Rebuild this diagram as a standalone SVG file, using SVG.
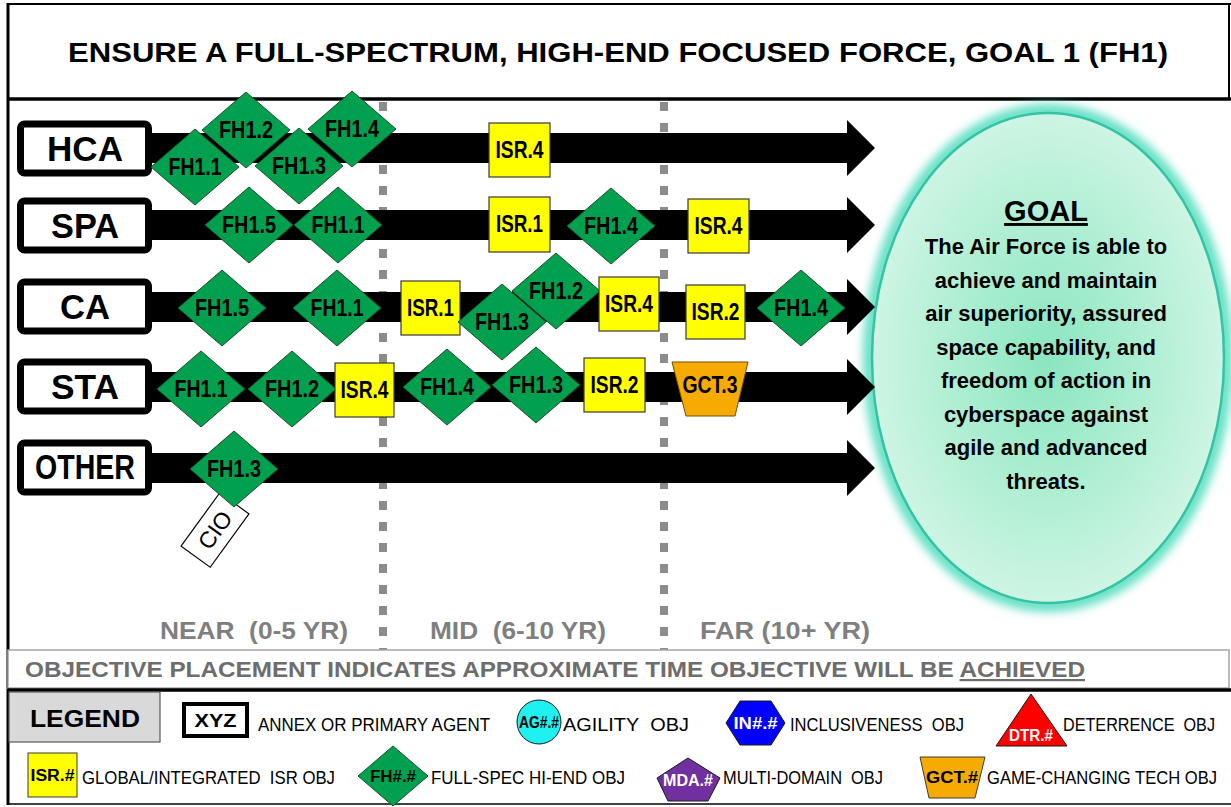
<svg xmlns="http://www.w3.org/2000/svg" xmlns:xlink="http://www.w3.org/1999/xlink" width="1231" height="807" viewBox="0 0 1231 807">
<style>
text{font-family:"Liberation Sans",Arial,sans-serif;}
.t{font-weight:bold;font-size:27px;fill:#000;}
.lbl{font-weight:bold;font-size:35px;text-anchor:middle;fill:#000;}
.lbox{fill:#fff;stroke:#000;stroke-width:7;}
.bar{fill:#000;}
.dot{stroke:#8c8c8c;stroke-width:8;stroke-dasharray:9 12;fill:none;}
.dia{fill:#00a04f;stroke:#1e4f2c;stroke-width:1;}
.isr{fill:#ffff00;stroke:#3a3a3a;stroke-width:1.2;}
.gct{fill:#f7ab00;stroke:#6b5200;stroke-width:1;}
.o{font-weight:bold;font-size:23px;text-anchor:middle;fill:#000;}
.g{font-weight:bold;font-size:22px;text-anchor:middle;fill:#000;}
.time{font-weight:bold;font-size:23px;fill:#7f7f7f;}
.note{font-weight:bold;font-size:22px;fill:#6d6d6d;}
.lg{font-size:18px;fill:#000;}
.lgb{font-weight:bold;font-size:16px;text-anchor:middle;}
</style>
<defs>
<polygon id="d" points="0,-38 44,0 0,38 -44,0"/>
<radialGradient id="gf" cx="0.5" cy="0.5" r="0.5">
<stop offset="0" stop-color="#8ae6bf"/>
<stop offset="1" stop-color="#cdf5e3"/>
</radialGradient>
<filter id="glow" x="-20%" y="-20%" width="140%" height="140%">
<feGaussianBlur stdDeviation="5"/>
</filter>
</defs>
<rect x="0" y="0" width="1231" height="807" fill="#fff"/>

<!-- frame -->
<g id="frame">
<line x1="8" y1="4" x2="1231" y2="4" stroke="#000" stroke-width="2"/>
<line x1="8" y1="3" x2="8" y2="805" stroke="#000" stroke-width="3"/>
<line x1="1229" y1="4" x2="1229" y2="99" stroke="#000" stroke-width="2"/>
<line x1="8" y1="99" x2="1231" y2="99" stroke="#000" stroke-width="3.5"/>
<text class="t" x="68" y="62" textLength="1100" lengthAdjust="spacingAndGlyphs">ENSURE A FULL-SPECTRUM, HIGH-END FOCUSED FORCE, GOAL 1 (FH1)</text>
</g>

<!-- goal ellipse -->
<g id="goal">
<ellipse cx="1048" cy="358" rx="178" ry="247" fill="none" stroke="#62e0c4" stroke-width="14" filter="url(#glow)"/>
<ellipse cx="1048" cy="358" rx="176" ry="245" fill="url(#gf)" stroke="#34c4a4" stroke-width="2.5"/>
<text x="1046" y="221" font-weight="bold" font-size="29" text-anchor="middle" text-decoration="underline" font-family="Liberation Sans, Arial, sans-serif">GOAL</text>
<text class="g" x="1046" y="254">The Air Force is able to</text>
<text class="g" x="1046" y="288">achieve and maintain</text>
<text class="g" x="1046" y="321">air superiority, assured</text>
<text class="g" x="1046" y="355">space capability, and</text>
<text class="g" x="1046" y="388">freedom of action in</text>
<text class="g" x="1046" y="422">cyberspace against</text>
<text class="g" x="1046" y="455">agile and advanced</text>
<text class="g" x="1046" y="489">threats.</text>
</g>

<!-- time dividers -->
<g id="dividers">
<line class="dot" x1="383" y1="102" x2="383" y2="650"/>
<line class="dot" x1="664" y1="102" x2="664" y2="650"/>
</g>

<!-- connectors (timeline arrows) -->
<g id="connectors">
<polygon class="bar" points="150,133 847,133 847,120 875,148 847,176 847,163 150,163"/>
<polygon class="bar" points="150,210 847,210 847,197 875,225 847,253 847,240 150,240"/>
<polygon class="bar" points="150,292 847,292 847,279 875,307 847,335 847,322 150,322"/>
<polygon class="bar" points="150,372 847,372 847,359 875,387 847,415 847,402 150,402"/>
<polygon class="bar" points="150,453 847,453 847,440 875,468 847,496 847,483 150,483"/>
</g>

<!-- row labels -->
<g id="HCA"><rect class="lbox" x="20.5" y="124" width="128" height="49" rx="4"/><text class="lbl" x="85" y="161" textLength="76" lengthAdjust="spacingAndGlyphs">HCA</text></g>
<g id="SPA"><rect class="lbox" x="20.5" y="201" width="128" height="49" rx="4"/><text class="lbl" x="85" y="238" textLength="68" lengthAdjust="spacingAndGlyphs">SPA</text></g>
<g id="CA"><rect class="lbox" x="20.5" y="282" width="128" height="49" rx="4"/><text class="lbl" x="85" y="319" textLength="50" lengthAdjust="spacingAndGlyphs">CA</text></g>
<g id="STA"><rect class="lbox" x="20.5" y="362" width="128" height="49" rx="4"/><text class="lbl" x="85" y="399" textLength="68" lengthAdjust="spacingAndGlyphs">STA</text></g>
<g id="OTHER"><rect class="lbox" x="20.5" y="443" width="128" height="49" rx="4"/><text class="lbl" x="85" y="479" font-size="33" textLength="100" lengthAdjust="spacingAndGlyphs">OTHER</text></g>

<!-- HCA row objects -->
<g id="hca-fh11"><use xlink:href="#d" class="dia" x="195" y="167"/><text class="o" x="195" y="175" textLength="53" lengthAdjust="spacingAndGlyphs">FH1.1</text></g>
<g id="hca-fh12"><use xlink:href="#d" class="dia" x="246" y="130"/><text class="o" x="246" y="138" textLength="54" lengthAdjust="spacingAndGlyphs">FH1.2</text></g>
<g id="hca-fh13"><use xlink:href="#d" class="dia" x="299" y="166"/><text class="o" x="299" y="174" textLength="54" lengthAdjust="spacingAndGlyphs">FH1.3</text></g>
<g id="hca-fh14"><use xlink:href="#d" class="dia" x="352" y="129"/><text class="o" x="352" y="137" textLength="54" lengthAdjust="spacingAndGlyphs">FH1.4</text></g>
<g id="hca-isr4"><rect class="isr" x="489" y="123" width="61" height="54"/><text class="o" x="519.5" y="158" textLength="48" lengthAdjust="spacingAndGlyphs">ISR.4</text></g>

<!-- SPA row objects -->
<g id="spa-fh15"><use xlink:href="#d" class="dia" x="249" y="225"/><text class="o" x="249" y="233" textLength="54" lengthAdjust="spacingAndGlyphs">FH1.5</text></g>
<g id="spa-fh11"><use xlink:href="#d" class="dia" x="338" y="225"/><text class="o" x="338" y="233" textLength="53" lengthAdjust="spacingAndGlyphs">FH1.1</text></g>
<g id="spa-isr1"><rect class="isr" x="489" y="197" width="61" height="55"/><text class="o" x="519.5" y="232" textLength="47" lengthAdjust="spacingAndGlyphs">ISR.1</text></g>
<g id="spa-fh14"><use xlink:href="#d" class="dia" x="611" y="226"/><text class="o" x="611" y="234" textLength="54" lengthAdjust="spacingAndGlyphs">FH1.4</text></g>
<g id="spa-isr4"><rect class="isr" x="688" y="199" width="61" height="54"/><text class="o" x="718.5" y="234" textLength="48" lengthAdjust="spacingAndGlyphs">ISR.4</text></g>

<!-- CA row objects -->
<g id="ca-fh15"><use xlink:href="#d" class="dia" x="222" y="308"/><text class="o" x="222" y="316" textLength="54" lengthAdjust="spacingAndGlyphs">FH1.5</text></g>
<g id="ca-fh11"><use xlink:href="#d" class="dia" x="337" y="308"/><text class="o" x="337" y="316" textLength="53" lengthAdjust="spacingAndGlyphs">FH1.1</text></g>
<g id="ca-isr1"><rect class="isr" x="401" y="281" width="59" height="54"/><text class="o" x="430.5" y="316" textLength="47" lengthAdjust="spacingAndGlyphs">ISR.1</text></g>
<g id="ca-fh13"><use xlink:href="#d" class="dia" x="502" y="322"/><text class="o" x="502" y="330" textLength="54" lengthAdjust="spacingAndGlyphs">FH1.3</text></g>
<g id="ca-fh12"><use xlink:href="#d" class="dia" x="556" y="291"/><text class="o" x="556" y="299" textLength="54" lengthAdjust="spacingAndGlyphs">FH1.2</text></g>
<g id="ca-isr4"><rect class="isr" x="599" y="277" width="60" height="54"/><text class="o" x="629" y="312" textLength="48" lengthAdjust="spacingAndGlyphs">ISR.4</text></g>
<g id="ca-isr2"><rect class="isr" x="686" y="285" width="59" height="54"/><text class="o" x="715.5" y="320" textLength="48" lengthAdjust="spacingAndGlyphs">ISR.2</text></g>
<g id="ca-fh14"><use xlink:href="#d" class="dia" x="801" y="308"/><text class="o" x="801" y="316" textLength="54" lengthAdjust="spacingAndGlyphs">FH1.4</text></g>

<!-- STA row objects -->
<g id="sta-fh11"><use xlink:href="#d" class="dia" x="201" y="389"/><text class="o" x="201" y="397" textLength="53" lengthAdjust="spacingAndGlyphs">FH1.1</text></g>
<g id="sta-fh12"><use xlink:href="#d" class="dia" x="292" y="389"/><text class="o" x="292" y="397" textLength="54" lengthAdjust="spacingAndGlyphs">FH1.2</text></g>
<g id="sta-isr4"><rect class="isr" x="335" y="363" width="59" height="54"/><text class="o" x="364.5" y="398" textLength="48" lengthAdjust="spacingAndGlyphs">ISR.4</text></g>
<g id="sta-fh14"><use xlink:href="#d" class="dia" x="447" y="387"/><text class="o" x="447" y="395" textLength="54" lengthAdjust="spacingAndGlyphs">FH1.4</text></g>
<g id="sta-fh13"><use xlink:href="#d" class="dia" x="536" y="385"/><text class="o" x="536" y="393" textLength="54" lengthAdjust="spacingAndGlyphs">FH1.3</text></g>
<g id="sta-isr2"><rect class="isr" x="584" y="358" width="61" height="54"/><text class="o" x="614.5" y="393" textLength="48" lengthAdjust="spacingAndGlyphs">ISR.2</text></g>
<g id="sta-gct3"><polygon class="gct" points="672,362 748,362 735,416 686,416"/><text class="o" x="710" y="393" textLength="55" lengthAdjust="spacingAndGlyphs">GCT.3</text></g>

<!-- OTHER row objects -->
<g id="other-cio"><g transform="translate(215,530) rotate(-54)"><rect x="-33" y="-18" width="66" height="36" fill="#fff" stroke="#000" stroke-width="1.2"/><text x="0" y="8" font-size="23" text-anchor="middle">CIO</text></g></g>
<g id="other-fh13"><use xlink:href="#d" class="dia" x="234" y="469"/><text class="o" x="234" y="477" textLength="54" lengthAdjust="spacingAndGlyphs">FH1.3</text></g>

<!-- time labels -->
<g id="timeline-labels">
<text class="time" x="160" y="639" textLength="188" lengthAdjust="spacingAndGlyphs">NEAR&#160; (0-5 YR)</text>
<text class="time" x="430" y="639" textLength="176" lengthAdjust="spacingAndGlyphs">MID&#160; (6-10 YR)</text>
<text class="time" x="700" y="639" textLength="170" lengthAdjust="spacingAndGlyphs">FAR (10+ YR)</text>
</g>

<!-- note -->
<g id="note">
<rect x="8" y="650" width="1221" height="38" fill="#fff" stroke="#a6a6a6" stroke-width="1.5"/>
<text class="note" x="25" y="677" textLength="1060" lengthAdjust="spacingAndGlyphs">OBJECTIVE PLACEMENT INDICATES APPROXIMATE TIME OBJECTIVE WILL BE <tspan text-decoration="underline">ACHIEVED</tspan></text>
</g>

<!-- legend -->
<g id="legend">
<line x1="8" y1="690" x2="1231" y2="690" stroke="#000" stroke-width="3.5"/>
<line x1="8" y1="804" x2="1231" y2="804" stroke="#000" stroke-width="1.5"/>
<rect x="9" y="692" width="151" height="50" fill="#d9d9d9" stroke="#595959" stroke-width="1.2"/>
<text x="30" y="727" font-weight="bold" font-size="24" textLength="110" lengthAdjust="spacingAndGlyphs">LEGEND</text>

<rect x="184" y="704" width="63" height="32" fill="#fff" stroke="#000" stroke-width="4"/>
<text x="215.5" y="727" font-weight="bold" font-size="19" text-anchor="middle" textLength="42" lengthAdjust="spacingAndGlyphs">XYZ</text>
<text class="lg" x="258" y="731" textLength="232" lengthAdjust="spacingAndGlyphs">ANNEX OR PRIMARY AGENT</text>

<circle cx="539" cy="722" r="22" fill="#1ff0f0" stroke="#1a1a1a" stroke-width="1"/>
<text class="lgb" x="539" y="728" textLength="40" lengthAdjust="spacingAndGlyphs">AG#.#</text>
<text class="lg" x="563" y="731" textLength="126" lengthAdjust="spacingAndGlyphs">AGILITY&#160; OBJ</text>

<polygon points="740,701 771,701 785,723 771,745 740,745 726,723" fill="#0000ff" stroke="#1a1a1a" stroke-width="1"/>
<text class="lgb" x="755.5" y="729" fill="#fff" font-size="18" textLength="44" lengthAdjust="spacingAndGlyphs">IN#.#</text>
<text class="lg" x="790" y="731" textLength="174" lengthAdjust="spacingAndGlyphs">INCLUSIVENESS&#160; OBJ</text>

<polygon points="1031,694 1067,746 996,746" fill="#ff0000" stroke="#1a1a1a" stroke-width="1"/>
<text class="lgb" x="1031" y="741" fill="#fff" textLength="44" lengthAdjust="spacingAndGlyphs">DTR.#</text>
<text class="lg" x="1063" y="731" font-size="16" textLength="152" lengthAdjust="spacingAndGlyphs">DETERRENCE&#160; OBJ</text>

<rect x="28" y="753" width="49" height="44" fill="#ffff00" stroke="#3a3a3a" stroke-width="1"/>
<text class="lgb" x="52.5" y="781" textLength="44" lengthAdjust="spacingAndGlyphs">ISR.#</text>
<text class="lg" x="82" y="784" textLength="253" lengthAdjust="spacingAndGlyphs">GLOBAL/INTEGRATED&#160; ISR OBJ</text>

<polygon points="393,746 428,776 393,806 358,776" fill="#00a04f" stroke="#1e4f2c" stroke-width="1"/>
<text class="lgb" x="393" y="782" textLength="46" lengthAdjust="spacingAndGlyphs">FH#.#</text>
<text class="lg" x="431" y="784" textLength="194" lengthAdjust="spacingAndGlyphs">FULL-SPEC HI-END OBJ</text>

<polygon points="688,758 720,778 708,801 668,801 657,778" fill="#7030a0" stroke="#1a1a1a" stroke-width="1"/>
<text class="lgb" x="688" y="786" fill="#fff" textLength="50" lengthAdjust="spacingAndGlyphs">MDA.#</text>
<text class="lg" x="723" y="784" textLength="160" lengthAdjust="spacingAndGlyphs">MULTI-DOMAIN&#160; OBJ</text>

<polygon points="920,757 985,757 975,798 929,798" fill="#f7ab00" stroke="#3a3a3a" stroke-width="1"/>
<text class="lgb" x="952" y="783" textLength="52" lengthAdjust="spacingAndGlyphs">GCT.#</text>
<text class="lg" x="987" y="784" font-size="15" textLength="230" lengthAdjust="spacingAndGlyphs">GAME-CHANGING TECH OBJ</text>
</g>
</svg>
